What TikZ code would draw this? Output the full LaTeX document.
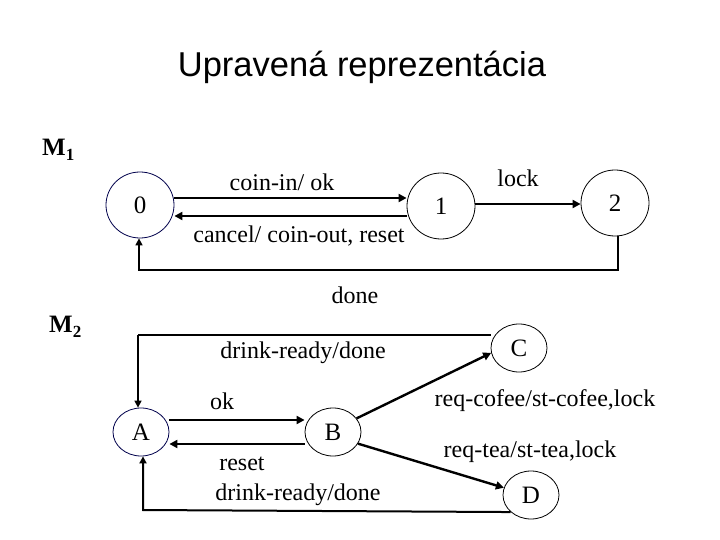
\documentclass[tikz,border=0pt]{standalone}
\usepackage{fontspec}
\setmainfont{Liberation Serif}
\newfontfamily\titlefont{Liberation Sans}
\usetikzlibrary{shapes.geometric,arrows.meta}
\begin{document}
\begin{tikzpicture}[x=1pt,y=-1pt,
  big/.style={ellipse,draw,line width=0.8pt,minimum width=68pt,minimum height=66pt,inner sep=0pt,font=\fontsize{25}{27}\selectfont},
  small/.style={ellipse,draw,line width=0.8pt,minimum width=56pt,minimum height=48pt,inner sep=0pt,font=\fontsize{25}{27}\selectfont},
  lbl/.style={inner sep=0pt,font=\fontsize{24}{26}\selectfont},
  arr/.style={line width=2.4pt,-{Triangle[length=8pt,width=8pt]}},
  loop/.style={line width=1.5pt,-{Triangle[length=7pt,width=7pt]}}]
\useasboundingbox (0,0) rectangle (720,540);
\fill[white] (0,0) rectangle (720,540);
\node[inner sep=0pt,font=\titlefont\fontsize{34.5}{36}\selectfont] (title) at (362,67) {Upravená reprezentácia};
\node[inner sep=0pt,anchor=west,font=\bfseries\fontsize{25}{27}\selectfont] (m1) at (42,150) {M\raisebox{-0.45ex}{\fontsize{17}{19}\selectfont 1}};
\node[inner sep=0pt,anchor=west,font=\bfseries\fontsize{25}{27}\selectfont] (m2) at (49,327) {M\raisebox{-0.45ex}{\fontsize{17}{19}\selectfont 2}};
% M1
\node[big,draw=blue!30!black] (n0) at (140,205) {0};
\node[big] (n1) at (441,206) {1};
\node[big] (n2) at (615,203) {2};
\draw[arr] (n0.east |- 0,198) -- (n1.west |- 0,198);
\draw[arr] (n1.west |- 0,216) -- (n0.east |- 0,216);
\draw[arr] (n1.east |- 0,204) -- (n2.west |- 0,204);
\coordinate (c2) at (618,270);
\coordinate (c0) at (139,270);
\draw[loop] (n2.south -| 618,0) -- (c2) -- (c0) -- (n0.south -| 139,0);
\node[lbl] (l1) at (282,182) {coin-in/ ok};
\node[lbl] (l2) at (299,236) {cancel/ coin-out, reset};
\node[lbl] (l3) at (518,178) {lock};
\node[lbl] (l4) at (355,295) {done};
% M2
\node[small,draw=blue!30!black] (A) at (141,432) {A};
\node[small] (B) at (333,432) {B};
\node[small] (C) at (519,348) {C};
\node[small] (D) at (531,495) {D};
\draw[arr] (A.east |- 0,420) -- (B.west |- 0,420);
\draw[arr] (B.west |- 0,444) -- (A.east |- 0,444);
\draw[arr] (B.30) -- (C.190);
\draw[arr] (B.-25) -- (D.165);
\coordinate (cc) at (138,335);
\draw[line width=1.5pt] (C.west |- 0,335) -- (cc);
\draw[loop] (cc) -- (A.north -| 138,0);
\coordinate (da) at (143,510);
\draw[loop,line width=2pt] (D.220) -- (da) -- (A.south -| 143,0);
\node[lbl] (l5) at (303,353) {drink-ready/done};
\node[lbl] (l6) at (222,401) {ok};
\node[lbl] (l7) at (545,401) {req-cofee/st-cofee,lock};
\node[lbl] (l8) at (530,452) {req-tea/st-tea,lock};
\node[lbl] (l9) at (242,464) {reset};
\node[lbl] (l10) at (298,495) {drink-ready/done};
\end{tikzpicture}
\end{document}
